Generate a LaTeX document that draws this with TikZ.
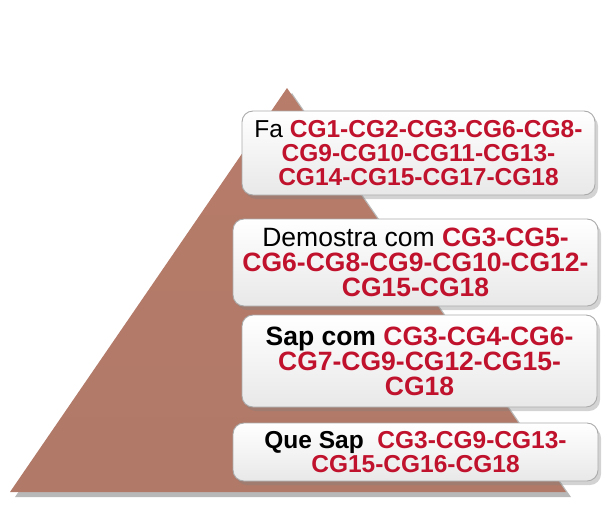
\documentclass[tikz,border=0pt]{standalone}
\usepackage{fontspec}
\setmainfont{Liberation Sans}
\usetikzlibrary{shadows}
\definecolor{pyr}{RGB}{176,121,104}
\definecolor{pyrtop}{RGB}{184,124,106}
\definecolor{cgred}{RGB}{192,18,44}
\definecolor{boxline}{RGB}{170,170,170}
\newcommand{\cg}[1]{\textcolor{cgred}{\bfseries #1}}
\tikzset{
  levelbox/.style={draw=boxline, line width=0.9pt, rounded corners=11pt,
    top color=white, bottom color=black!9,
    drop shadow={opacity=0.35, shadow xshift=3pt, shadow yshift=-4pt},
    align=center, inner sep=0pt},
  smalltext/.style={font=\fontsize{24.5}{24}\selectfont},
  bigtext/.style={font=\fontsize{26.5}{25}\selectfont}
}
\begin{document}
\begin{tikzpicture}[x=1pt,y=-1pt]
\useasboundingbox (0,0) rectangle (609,509);
% pyramid
\coordinate (apex) at (287,88);
\coordinate (bl) at (10,492);
\coordinate (br) at (566,492);
\fill[black, opacity=0.28] ([xshift=5pt,yshift=-5pt]apex) -- ([xshift=5pt,yshift=-5pt]bl) -- ([xshift=5pt,yshift=-5pt]br) -- cycle;
\shade[top color=pyrtop, bottom color=pyr] (apex) -- (bl) -- (br) -- cycle;
% boxes
\node[levelbox, smalltext, minimum width=353pt, minimum height=84pt] (b1) at (418.5,153)
  {Fa \cg{CG1-CG2-CG3-CG6-CG8-}\\ \cg{CG9-CG10-CG11-CG13-}\\ \cg{CG14-CG15-CG17-CG18}};
\node[levelbox, bigtext, minimum width=365pt, minimum height=87pt] (b2) at (415.5,262.5)
  {Demostra com \cg{CG3-CG5-}\\ \cg{CG6-CG8-CG9-CG10-CG12-}\\ \cg{CG15-CG18}};
\node[levelbox, bigtext, minimum width=355pt, minimum height=92pt] (b3) at (419.5,361)
  {\textbf{Sap com} \cg{CG3-CG4-CG6-}\\ \cg{CG7-CG9-CG12-CG15-}\\ \cg{CG18}};
\node[levelbox, smalltext, minimum width=365pt, minimum height=58pt] (b4) at (415.5,452)
  {\textbf{Que Sap}\ \ \cg{CG3-CG9-CG13-}\\ \cg{CG15-CG16-CG18}};
\end{tikzpicture}
\end{document}
